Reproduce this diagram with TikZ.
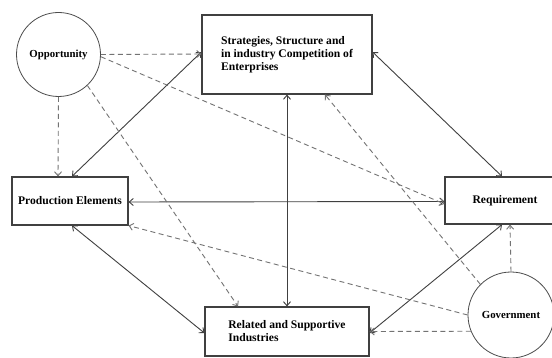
\documentclass[tikz,border=0pt]{standalone}
\usepackage{fontspec}
\setmainfont{Liberation Serif}
\usetikzlibrary{arrows.meta}
\begin{document}
\begin{tikzpicture}[x=1pt,y=-1pt,
  box/.style={draw=black!75, line width=1.2pt, fill=white, font=\bfseries\fontsize{11.6}{13}\selectfont},
  circ/.style={draw=black!70, line width=0.8pt, circle, fill=white, font=\bfseries\fontsize{10.8}{13}\selectfont, inner sep=0pt},
  solidlink/.style={draw=black!75, line width=0.9pt, {Straight Barb[length=4pt,width=7pt]}-{Straight Barb[length=4pt,width=7pt]}},
  dashlink/.style={draw=black!55, line width=0.9pt, dash pattern=on 5pt off 3.5pt, -{Straight Barb[length=4pt,width=7pt]}}
]
\useasboundingbox (0,0) rectangle (552,358);
\fill[white] (0,0) rectangle (552,358);

\node[box, minimum width=170pt, minimum height=79pt, align=left] (S) at (287,54.5)
  {Strategies, Structure and\\in industry Competition of\\Enterprises};
\node[box, minimum width=116pt, minimum height=48pt, inner xsep=2pt] (P) at (70,201) {Production Elements};
\node[box, minimum width=120pt, minimum height=47pt, text width=100pt, align=center] (R) at (505,200.5) {Requirement};
\node[box, minimum width=164pt, minimum height=49pt, align=left] (Rel) at (287,331.5)
  {Related and Supportive\\Industries};
\node[circ, minimum size=84pt] (O) at (58.5,54.5) {Opportunity};
\node[circ, minimum size=86pt] (G) at (511,315) {Government};

% solid two-way links
\draw[solidlink] ([yshift=2.5pt]S.west) -- ([xshift=2pt]P.north);
\draw[solidlink] ([yshift=2.5pt]S.east) -- ([xshift=-3pt]R.north);
\draw[solidlink] ([yshift=-1pt]P.east) -- ([yshift=-1pt]R.west);
\draw[solidlink] (S.south) -- (Rel.north);
\draw[solidlink] ([xshift=2pt]P.south) -- ([yshift=-1.5pt]Rel.west);
\draw[solidlink] ([yshift=-1.5pt]Rel.east) -- ([xshift=-3pt]R.south);

% dashed influences
\draw[dashlink] (O.east) -- ([yshift=0.5pt]S.west);
\draw[dashlink] (O.-3) -- ([yshift=-3.5pt]R.west);
\draw[dashlink] (O.south) -- ([xshift=-12pt]P.north);
\draw[dashlink] (O.-47) -- ([xshift=-49pt]Rel.north);
\draw[dashlink] (G.135) -- ([xshift=38pt]S.south);
\draw[dashlink] (G.180) -- (P.south east);
\draw[dashlink] (G.202) -- (Rel.east);
\draw[dashlink] (G.north) -- ([xshift=5pt]R.south);
\end{tikzpicture}
\end{document}
